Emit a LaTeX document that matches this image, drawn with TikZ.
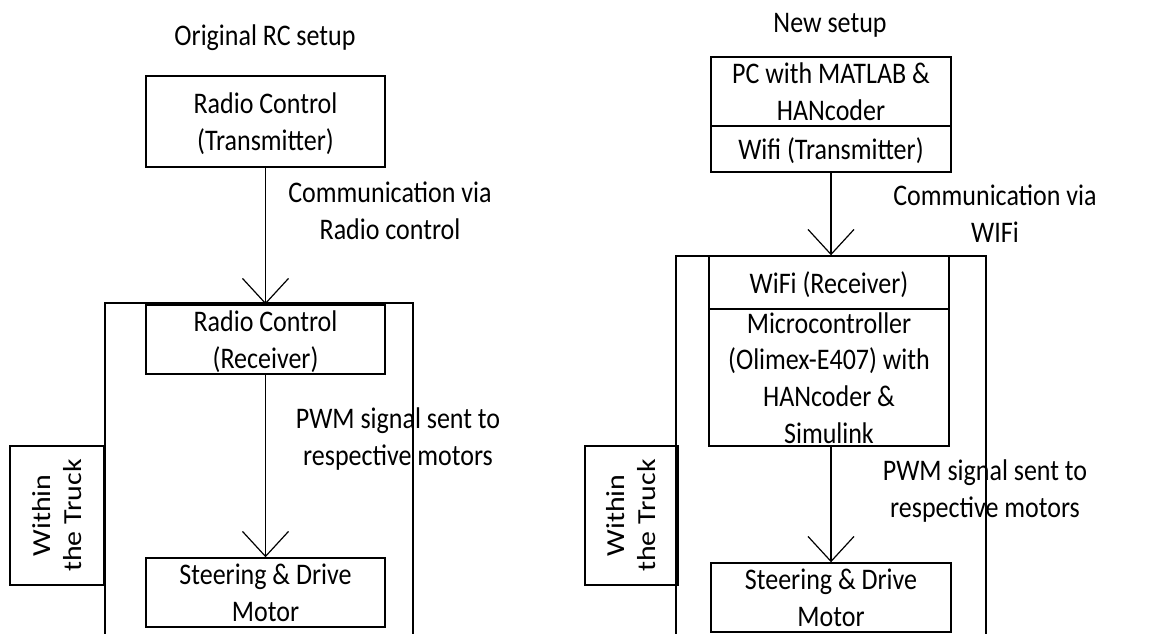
\documentclass[tikz,border=0pt]{standalone}
\usepackage{fontspec}
\usepackage{graphicx}
\setmainfont{Carlito}
\usetikzlibrary{arrows.meta}
\newcommand{\stx}[1]{\scalebox{1}[1.15]{\begin{tabular}{@{}c@{}}#1\end{tabular}}}
\newcommand{\sty}[1]{\scalebox{1.15}[1]{\begin{tabular}{@{}c@{}}#1\end{tabular}}}
\begin{document}
\begin{tikzpicture}[x=1pt,y=-1pt,
  txt/.style={inner sep=0pt,align=center,font=\fontsize{26}{32}\selectfont,
    text height=21pt,text depth=0pt},
  box/.style={txt,draw,line width=1.4pt},
  sidebox/.style={draw,line width=1.4pt,inner sep=0pt,align=center,rotate=90,
    font=\fontsize{26}{31}\selectfont,text height=18pt,text depth=0pt,
    minimum width=139pt,minimum height=94pt},
  conn/.style={line width=1.2pt,-{Straight Barb[length=25pt,width=46pt,line width=1.2pt]}},
  truck/.style={line width=2pt},
]
\useasboundingbox (0,0) rectangle (1157,633);

% ---------- left: original RC setup ----------
\node[txt] (t1) at (265,35) {\stx{Original RC setup}};
\node[box,minimum width=239pt,minimum height=91pt] (tx) at (265.5,121.5) {\stx{Radio Control\\(Transmitter)}};
\draw[truck] (105,640) -- (105,303) -- (413,303) -- (413,640);
\node[box,minimum width=239pt,minimum height=69pt] (rx) at (265.5,339.5) {\stx{Radio Control\\(Receiver)}};
\node[box,minimum width=239pt,minimum height=69pt] (sd) at (265.5,592.5) {\stx{Steering \& Drive\\Motor}};
\node[sidebox] (w1) at (57,515.5) {\sty{Within\\the Truck}};
\draw[conn] (tx.south) -- (rx.north);
\draw[conn] (rx.south) -- (sd.north);
\node[txt] (l1) at (390,210.5) {\stx{Communication via\\Radio control}};
\node[txt] (l2) at (398,436.5) {\stx{PWM signal sent to\\respective motors}};

% ---------- right: new setup ----------
\node[txt] (t2) at (830,22) {\stx{New setup}};
\node[box,minimum width=240pt,minimum height=69pt] (pc) at (831,91.5) {\stx{PC with MATLAB \&\\HANcoder}};
\node[box,minimum width=240pt,minimum height=46pt] (wtx) at (831,149) {\stx{Wifi (Transmitter)}};
\draw[truck] (676,640) -- (676,256) -- (986,256) -- (986,640);
\node[box,minimum width=240pt,minimum height=53pt] (wrx) at (829,282.5) {\stx{WiFi (Receiver)}};
\node[box,minimum width=240pt,minimum height=137pt] (mc) at (829,377.5) {\stx{Microcontroller\\(Olimex-E407) with\\HANcoder \&\\Simulink}};
\node[box,minimum width=240pt,minimum height=69pt] (sd2) at (831,597.5) {\stx{Steering \& Drive\\Motor}};
\node[sidebox,minimum height=93pt] (w2) at (631.5,515.5) {\sty{Within\\the Truck}};
\draw[conn] (wtx.south) -- (wtx.south |- wrx.north);
\draw[conn] (mc.south -| sd2.north) -- (sd2.north);
\node[txt] (r1) at (995,213.5) {\stx{Communication via\\WIFi}};
\node[txt] (r2) at (985,488.5) {\stx{PWM signal sent to\\respective motors}};
\end{tikzpicture}
\end{document}
